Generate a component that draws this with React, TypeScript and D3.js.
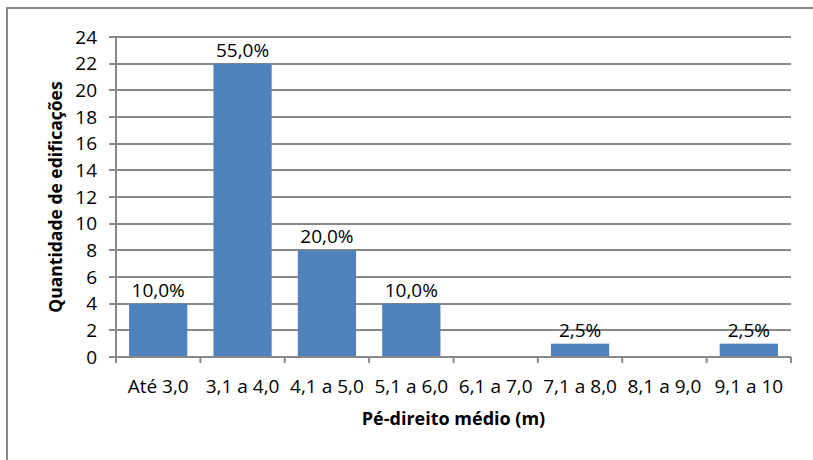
import React from "react";
import * as d3 from "d3";

const categories = ["Até 3,0", "3,1 a 4,0", "4,1 a 5,0", "5,1 a 6,0", "6,1 a 7,0", "7,1 a 8,0", "8,1 a 9,0", "9,1 a 10"];
const counts = [4, 22, 8, 4, 0, 1, 0, 1];
const percentLabels = ["10,0%", "55,0%", "20,0%", "10,0%", "", "2,5%", "", "2,5%"];
const yTicks = [0, 2, 4, 6, 8, 10, 12, 14, 16, 18, 20, 22, 24];
const xTitle = "Pé-direito médio (m)";
const yTitle = "Quantidade de edificações";

const W = 813;
const H = 460;
const left = 116;
const right = 791;
const top = 37;
const bottom = 357;
const font = "'Open Sans', sans-serif";
const grid = "#898989";

export default function App() {
  const x = d3.scaleBand<string>().domain(categories).range([left, right]).paddingInner(0.31).paddingOuter(0.155);
  const xb = d3.scaleBand<string>().domain(categories).range([left, right]);
  const y = d3.scaleLinear().domain([0, 24]).range([bottom, top]);
  return (
    <svg width={W} height={H} style={{ position: "absolute", left: 0, top: 0, background: "#fff" }}>
      <rect x={7} y={8} width={900} height={600} fill="#fff" stroke={grid} strokeWidth={2} />
      {yTicks.map((t) => (
        <g key={t}>
          <line x1={109} x2={right} y1={Math.round(y(t))} y2={Math.round(y(t))} stroke={grid} strokeWidth={2} />
          <text x={97} y={y(t)} dy="0.35em" textAnchor="end" fontFamily={font} fontSize={19} fill="#000">{t}</text>
        </g>
      ))}
      {categories.map((c, i) => (
        <g key={c}>
          {counts[i] > 0 && (
            <rect x={x(c)} y={y(counts[i])} width={x.bandwidth()} height={y(0) - y(counts[i])} fill="#4f81bd" />
          )}
          {percentLabels[i] && (
            <text x={(x(c) as number) + x.bandwidth() / 2} y={y(counts[i]) - 7} textAnchor="middle" fontFamily={font} fontSize={19} fill="#000">{percentLabels[i]}</text>
          )}
          <text x={(xb(c) as number) + xb.bandwidth() / 2} y={386} dy="0.35em" textAnchor="middle" fontFamily={font} fontSize={19} fill="#000">{c}</text>
        </g>
      ))}
      <line x1={left} x2={left} y1={top} y2={bottom} stroke={grid} strokeWidth={2} />
      <line x1={left} x2={right} y1={bottom} y2={bottom} stroke={grid} strokeWidth={2} />
      {d3.range(categories.length + 1).map((i) => {
        const xx = left + (i * (right - left)) / categories.length;
        return <line key={i} x1={xx} x2={xx} y1={bottom} y2={bottom + 6} stroke={grid} strokeWidth={2} />;
      })}
      <text x={(left + right) / 2} y={419} dy="0.35em" textAnchor="middle" fontFamily={font} fontWeight="bold" fontSize={18} fill="#000">{xTitle}</text>
      <text transform={`translate(56,${(top + bottom) / 2}) rotate(-90)`} dy="0.35em" textAnchor="middle" fontFamily={font} fontWeight="bold" fontSize={17.5} fill="#000">{yTitle}</text>
    </svg>
  );
}
